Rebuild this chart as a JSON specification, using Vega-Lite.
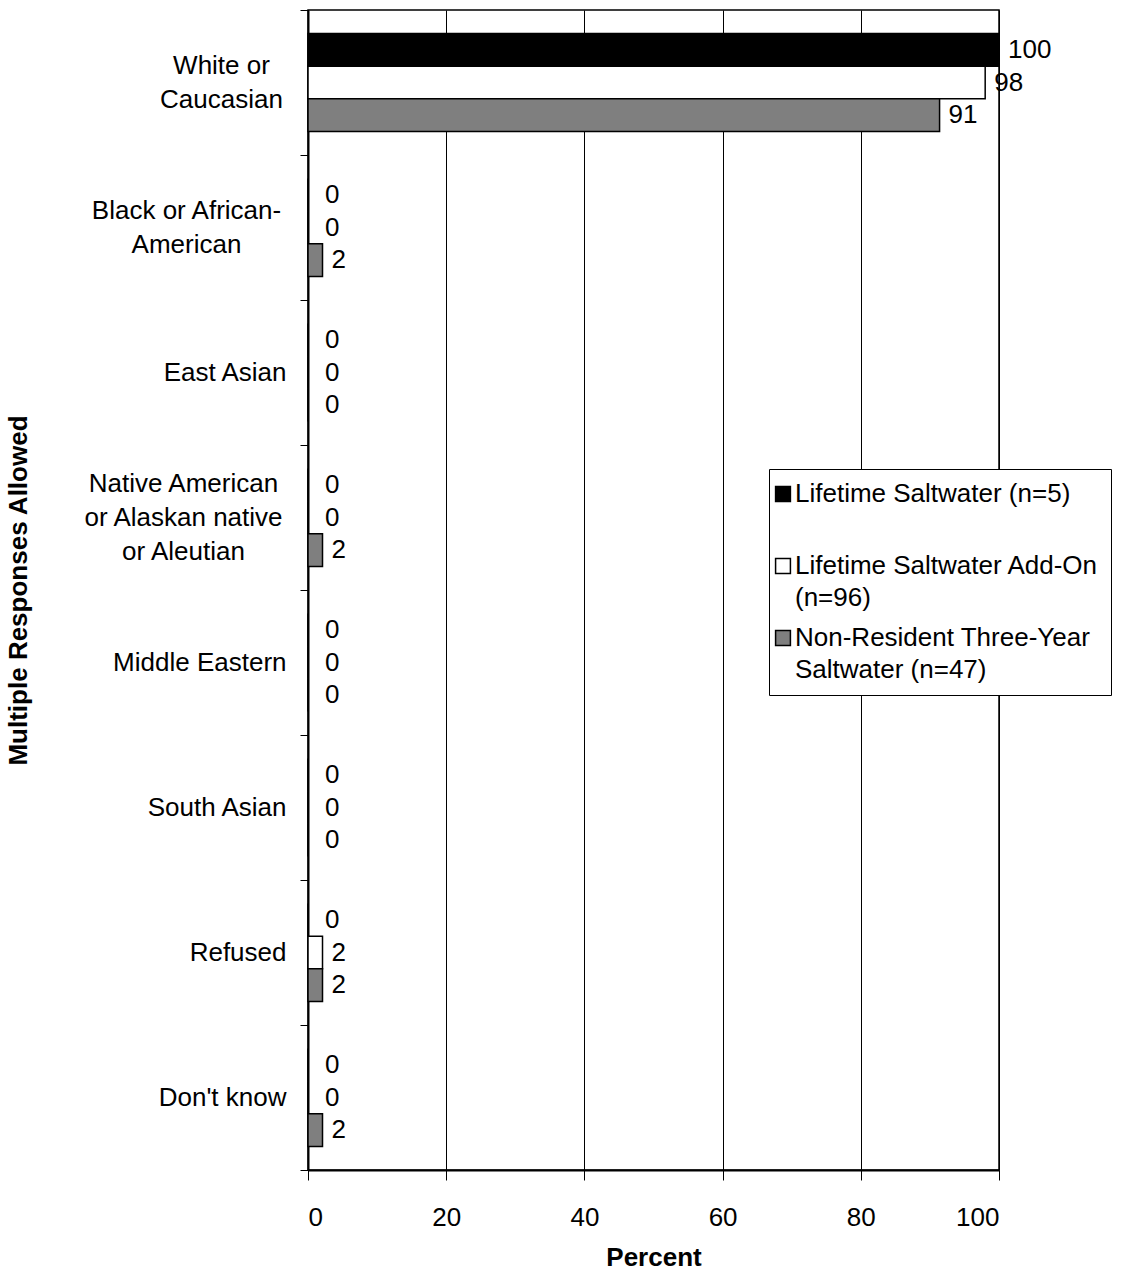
{
  "$schema": "https://vega.github.io/schema/vega-lite/v6.json",
  "width": 691,
  "height": 1160,
  "autosize": {"type": "none"},
  "padding": {"left": 308, "top": 10, "right": 137, "bottom": 103},
  "background": "white",
  "config": {
    "font": "Liberation Sans",
    "view": {"stroke": "black", "strokeWidth": 1.5},
    "style": {"guide-label": {"lineHeight": 32}},
    "axis": {"labelFont": "Liberation Sans", "titleFont": "Liberation Sans", "labelColor": "black", "titleColor": "black", "domainColor": "black", "tickColor": "black", "labelFontSize": 26, "titleFontSize": 26}
  },
  "data": {
    "values": [
      {"category": "White or Caucasian", "series": "Lifetime Saltwater (n=5)", "value": 100},
      {"category": "White or Caucasian", "series": "Lifetime Saltwater Add-On (n=96)", "value": 98},
      {"category": "White or Caucasian", "series": "Non-Resident Three-Year Saltwater (n=47)", "value": 91.4},
      {"category": "Black or African-American", "series": "Lifetime Saltwater (n=5)", "value": 0},
      {"category": "Black or African-American", "series": "Lifetime Saltwater Add-On (n=96)", "value": 0},
      {"category": "Black or African-American", "series": "Non-Resident Three-Year Saltwater (n=47)", "value": 2.1},
      {"category": "East Asian", "series": "Lifetime Saltwater (n=5)", "value": 0},
      {"category": "East Asian", "series": "Lifetime Saltwater Add-On (n=96)", "value": 0},
      {"category": "East Asian", "series": "Non-Resident Three-Year Saltwater (n=47)", "value": 0},
      {"category": "Native American or Alaskan native or Aleutian", "series": "Lifetime Saltwater (n=5)", "value": 0},
      {"category": "Native American or Alaskan native or Aleutian", "series": "Lifetime Saltwater Add-On (n=96)", "value": 0},
      {"category": "Native American or Alaskan native or Aleutian", "series": "Non-Resident Three-Year Saltwater (n=47)", "value": 2.1},
      {"category": "Middle Eastern", "series": "Lifetime Saltwater (n=5)", "value": 0},
      {"category": "Middle Eastern", "series": "Lifetime Saltwater Add-On (n=96)", "value": 0},
      {"category": "Middle Eastern", "series": "Non-Resident Three-Year Saltwater (n=47)", "value": 0},
      {"category": "South Asian", "series": "Lifetime Saltwater (n=5)", "value": 0},
      {"category": "South Asian", "series": "Lifetime Saltwater Add-On (n=96)", "value": 0},
      {"category": "South Asian", "series": "Non-Resident Three-Year Saltwater (n=47)", "value": 0},
      {"category": "Refused", "series": "Lifetime Saltwater (n=5)", "value": 0},
      {"category": "Refused", "series": "Lifetime Saltwater Add-On (n=96)", "value": 2.1},
      {"category": "Refused", "series": "Non-Resident Three-Year Saltwater (n=47)", "value": 2.1},
      {"category": "Don't know", "series": "Lifetime Saltwater (n=5)", "value": 0},
      {"category": "Don't know", "series": "Lifetime Saltwater Add-On (n=96)", "value": 0},
      {"category": "Don't know", "series": "Non-Resident Three-Year Saltwater (n=47)", "value": 2.1}
    ]
  },
  "encoding": {
    "y": {
      "field": "category",
      "type": "nominal",
      "sort": ["White or Caucasian", "Black or African-American", "East Asian", "Native American or Alaskan native or Aleutian", "Middle Eastern", "South Asian", "Refused", "Don't know"],
      "scale": {"paddingInner": 0, "paddingOuter": 0},
      "axis": {
        "title": "Multiple Responses Allowed",
        "titleFontWeight": "bold",
        "titleX": -290,
        "titleY": 580,
        "titleAngle": -90,
        "titleAlign": "center",
        "titleBaseline": "middle",
        "tickBand": "extent",
        "tickSize": 8,
        "domainWidth": 2,
        "labelLineHeight": 34,
        "labelLimit": 300,
        "labelAlign": {
          "condition": {"test": "datum.value == 'White or Caucasian' || datum.value == 'Black or African-American' || datum.value == 'Native American or Alaskan native or Aleutian'", "value": "center"},
          "value": "right"
        },
        "labelPadding": {
          "condition": [
            {"test": "datum.value == 'White or Caucasian'", "value": 79},
            {"test": "datum.value == 'Black or African-American'", "value": 114},
            {"test": "datum.value == 'Native American or Alaskan native or Aleutian'", "value": 117}
          ],
          "value": 14
        },
        "labelOffset": {
          "condition": [
            {"test": "datum.value == 'White or Caucasian' || datum.value == 'Black or African-American'", "value": -17},
            {"test": "datum.value == 'Native American or Alaskan native or Aleutian'", "value": -34}
          ],
          "value": 0
        },
        "labelExpr": "datum.label == 'White or Caucasian' ? ['White or', 'Caucasian'] : datum.label == 'Black or African-American' ? ['Black or African-', 'American'] : datum.label == 'Native American or Alaskan native or Aleutian' ? ['Native American', 'or Alaskan native', 'or Aleutian'] : datum.label"
      }
    },
    "yOffset": {
      "field": "series",
      "type": "nominal",
      "sort": ["Lifetime Saltwater (n=5)", "Lifetime Saltwater Add-On (n=96)", "Non-Resident Three-Year Saltwater (n=47)"],
      "scale": {"paddingInner": 0, "paddingOuter": 0.72}
    },
    "x": {
      "field": "value",
      "type": "quantitative",
      "scale": {"domain": [0, 100], "nice": false},
      "axis": {
        "title": "Percent",
        "titleFontWeight": "bold",
        "titleY": 87,
        "titleBaseline": "middle",
        "values": [0, 20, 40, 60, 80, 100],
        "grid": true,
        "gridColor": "black",
        "gridWidth": 1,
        "gridOpacity": 1,
        "tickSize": 10,
        "domainWidth": 2,
        "labelPadding": 24
      }
    }
  },
  "layer": [
    {
      "mark": {"type": "bar", "stroke": "black", "strokeWidth": 1.5},
      "encoding": {
        "color": {
          "field": "series",
          "type": "nominal",
          "sort": ["Lifetime Saltwater (n=5)", "Lifetime Saltwater Add-On (n=96)", "Non-Resident Three-Year Saltwater (n=47)"],
          "scale": {"range": ["black", "white", "#7f7f7f"]},
          "legend": {
            "title": null,
            "orient": "none",
            "legendX": 461,
            "legendY": 459,
            "fillColor": "white",
            "strokeColor": "black",
            "padding": 12,
            "gridAlign": "all",
            "symbolType": "square",
            "symbolSize": 220,
            "symbolOffset": -11,
            "symbolStrokeColor": "black",
            "symbolStrokeWidth": 1.5,
            "symbolOpacity": 1,
            "labelFontSize": 26,
            "labelFont": "Liberation Sans",
            "labelColor": "black",
            "labelLimit": 500,
            "labelOffset": -1,
            "rowPadding": 14,
            "labelExpr": "datum.label == 'Lifetime Saltwater Add-On (n=96)' ? ['Lifetime Saltwater Add-On', '(n=96)'] : datum.label == 'Non-Resident Three-Year Saltwater (n=47)' ? ['Non-Resident Three-Year', 'Saltwater (n=47)'] : datum.label"
          }
        }
      }
    },
    {
      "transform": [{"filter": "datum.value > 0"}],
      "mark": {"type": "text", "align": "left", "baseline": "middle", "dx": 9, "fontSize": 26, "color": "black"},
      "encoding": {"text": {"field": "value", "type": "quantitative", "format": ".0f"}}
    },
    {
      "transform": [{"filter": "datum.value == 0"}],
      "mark": {"type": "text", "align": "left", "baseline": "middle", "dx": 17, "fontSize": 26, "color": "black"},
      "encoding": {"text": {"field": "value", "type": "quantitative", "format": ".0f"}}
    }
  ]
}
